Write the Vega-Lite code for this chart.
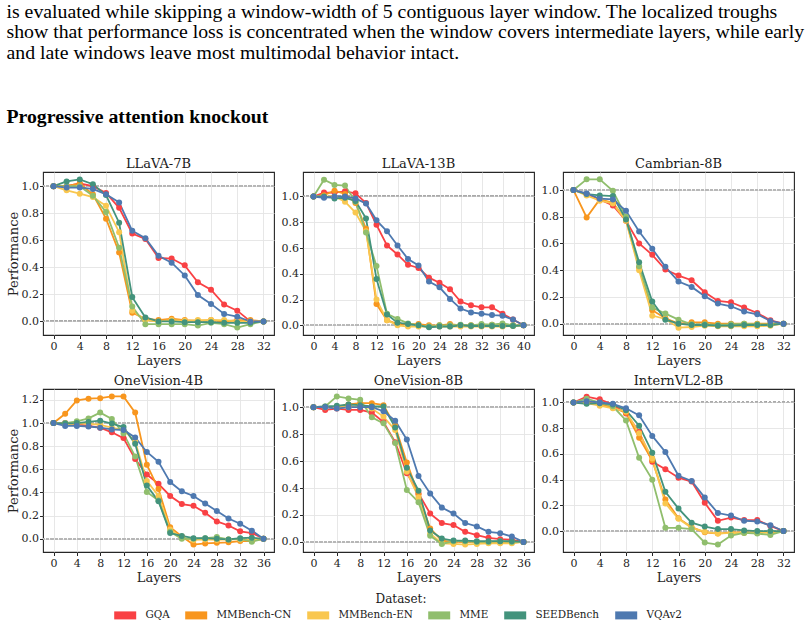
{
"$schema": "https://vega.github.io/schema/vega-lite/v6.json",
"padding": {"left": 6, "top": 1, "right": 5, "bottom": 2},
"background": "white",
"title": {"text": ["is evaluated while skipping a window-width of 5 contiguous layer window. The localized troughs", "show that performance loss is concentrated when the window covers intermediate layers, while early", "and late windows leave most multimodal behavior intact."], "subtitle": "Progressive attention knockout", "anchor": "start", "frame": "bounds", "font": "Liberation Serif", "fontSize": 19.8, "fontWeight": "normal", "lineHeight": 20.5, "color": "black", "subtitleFont": "Liberation Serif", "subtitleFontSize": 19.8, "subtitleFontWeight": "bold", "subtitleColor": "black", "subtitlePadding": 44, "offset": 31},
"datasets": {"d": [
{"m":"LLaVA-7B","l":0,"GQA":1,"MMBench-CN":1,"MMBench-EN":1,"MME":1,"SEEDBench":1,"VQAv2":1},
{"m":"LLaVA-7B","l":2,"GQA":1.0,"MMBench-CN":1.0,"MMBench-EN":0.97,"MME":1.0,"SEEDBench":1.035,"VQAv2":0.99},
{"m":"LLaVA-7B","l":4,"GQA":1.02,"MMBench-CN":1.02,"MMBench-EN":0.945,"MME":1.0,"SEEDBench":1.05,"VQAv2":0.99},
{"m":"LLaVA-7B","l":6,"GQA":1.0,"MMBench-CN":0.94,"MMBench-EN":0.92,"MME":0.93,"SEEDBench":1.015,"VQAv2":0.98},
{"m":"LLaVA-7B","l":8,"GQA":0.95,"MMBench-CN":0.76,"MMBench-EN":0.855,"MME":0.81,"SEEDBench":0.935,"VQAv2":0.94},
{"m":"LLaVA-7B","l":10,"GQA":0.84,"MMBench-CN":0.51,"MMBench-EN":0.66,"MME":0.545,"SEEDBench":0.73,"VQAv2":0.88},
{"m":"LLaVA-7B","l":12,"GQA":0.65,"MMBench-CN":0.065,"MMBench-EN":0.08,"MME":0.11,"SEEDBench":0.18,"VQAv2":0.67},
{"m":"LLaVA-7B","l":14,"GQA":0.61,"MMBench-CN":0.02,"MMBench-EN":0.01,"MME":-0.02,"SEEDBench":0.03,"VQAv2":0.615},
{"m":"LLaVA-7B","l":16,"GQA":0.47,"MMBench-CN":0.01,"MMBench-EN":0.0,"MME":-0.02,"SEEDBench":0.0,"VQAv2":0.485},
{"m":"LLaVA-7B","l":18,"GQA":0.465,"MMBench-CN":0.02,"MMBench-EN":0.01,"MME":-0.02,"SEEDBench":0.0,"VQAv2":0.435},
{"m":"LLaVA-7B","l":20,"GQA":0.415,"MMBench-CN":0.01,"MMBench-EN":0.005,"MME":-0.02,"SEEDBench":-0.005,"VQAv2":0.34},
{"m":"LLaVA-7B","l":22,"GQA":0.29,"MMBench-CN":0.005,"MMBench-EN":0.01,"MME":-0.03,"SEEDBench":-0.005,"VQAv2":0.195},
{"m":"LLaVA-7B","l":24,"GQA":0.235,"MMBench-CN":0.01,"MMBench-EN":0.01,"MME":-0.01,"SEEDBench":-0.005,"VQAv2":0.13},
{"m":"LLaVA-7B","l":26,"GQA":0.125,"MMBench-CN":0.0,"MMBench-EN":0.01,"MME":-0.02,"SEEDBench":-0.01,"VQAv2":0.055},
{"m":"LLaVA-7B","l":28,"GQA":0.08,"MMBench-CN":0.01,"MMBench-EN":0.0,"MME":-0.045,"SEEDBench":-0.01,"VQAv2":0.035},
{"m":"LLaVA-7B","l":30,"GQA":0.0,"MMBench-CN":0.01,"MMBench-EN":0.0,"MME":-0.02,"SEEDBench":-0.01,"VQAv2":0.0},
{"m":"LLaVA-7B","l":32,"GQA":0,"MMBench-CN":0,"MMBench-EN":0,"MME":0,"SEEDBench":0,"VQAv2":0},
{"m":"LLaVA-13B","l":0,"GQA":1,"MMBench-CN":1,"MMBench-EN":1,"MME":1,"SEEDBench":1,"VQAv2":1},
{"m":"LLaVA-13B","l":2,"GQA":1.03,"MMBench-CN":1.01,"MMBench-EN":1.0,"MME":1.13,"SEEDBench":1.0,"VQAv2":0.99},
{"m":"LLaVA-13B","l":4,"GQA":1.03,"MMBench-CN":1.045,"MMBench-EN":1.0,"MME":1.09,"SEEDBench":0.985,"VQAv2":1.0},
{"m":"LLaVA-13B","l":6,"GQA":1.04,"MMBench-CN":1.02,"MMBench-EN":0.96,"MME":1.085,"SEEDBench":0.99,"VQAv2":1.0},
{"m":"LLaVA-13B","l":8,"GQA":1.025,"MMBench-CN":0.95,"MMBench-EN":0.875,"MME":0.96,"SEEDBench":0.965,"VQAv2":0.985},
{"m":"LLaVA-13B","l":10,"GQA":0.95,"MMBench-CN":0.75,"MMBench-EN":0.73,"MME":0.72,"SEEDBench":0.83,"VQAv2":0.945},
{"m":"LLaVA-13B","l":12,"GQA":0.78,"MMBench-CN":0.165,"MMBench-EN":0.2,"MME":0.46,"SEEDBench":0.36,"VQAv2":0.815},
{"m":"LLaVA-13B","l":14,"GQA":0.62,"MMBench-CN":0.04,"MMBench-EN":0.04,"MME":0.09,"SEEDBench":0.085,"VQAv2":0.73},
{"m":"LLaVA-13B","l":16,"GQA":0.55,"MMBench-CN":0.01,"MMBench-EN":0.0,"MME":0.05,"SEEDBench":0.02,"VQAv2":0.62},
{"m":"LLaVA-13B","l":18,"GQA":0.47,"MMBench-CN":0.01,"MMBench-EN":-0.01,"MME":0.015,"SEEDBench":0.01,"VQAv2":0.515},
{"m":"LLaVA-13B","l":20,"GQA":0.445,"MMBench-CN":0.01,"MMBench-EN":-0.01,"MME":0.0,"SEEDBench":0.0,"VQAv2":0.465},
{"m":"LLaVA-13B","l":22,"GQA":0.37,"MMBench-CN":0.0,"MMBench-EN":-0.01,"MME":-0.01,"SEEDBench":-0.015,"VQAv2":0.34},
{"m":"LLaVA-13B","l":24,"GQA":0.33,"MMBench-CN":0.0,"MMBench-EN":-0.01,"MME":0.0,"SEEDBench":-0.01,"VQAv2":0.295},
{"m":"LLaVA-13B","l":26,"GQA":0.28,"MMBench-CN":0.01,"MMBench-EN":-0.01,"MME":0.0,"SEEDBench":-0.01,"VQAv2":0.205},
{"m":"LLaVA-13B","l":28,"GQA":0.185,"MMBench-CN":0.0,"MMBench-EN":-0.01,"MME":0.005,"SEEDBench":0.0,"VQAv2":0.13},
{"m":"LLaVA-13B","l":30,"GQA":0.155,"MMBench-CN":0.0,"MMBench-EN":-0.01,"MME":0.0,"SEEDBench":-0.005,"VQAv2":0.1},
{"m":"LLaVA-13B","l":32,"GQA":0.14,"MMBench-CN":0.0,"MMBench-EN":-0.01,"MME":0.01,"SEEDBench":-0.005,"VQAv2":0.09},
{"m":"LLaVA-13B","l":34,"GQA":0.14,"MMBench-CN":0.005,"MMBench-EN":-0.01,"MME":0.005,"SEEDBench":-0.005,"VQAv2":0.08},
{"m":"LLaVA-13B","l":36,"GQA":0.09,"MMBench-CN":0.0,"MMBench-EN":-0.01,"MME":0.015,"SEEDBench":-0.005,"VQAv2":0.075},
{"m":"LLaVA-13B","l":38,"GQA":0.045,"MMBench-CN":0.0,"MMBench-EN":-0.005,"MME":0.0,"SEEDBench":-0.005,"VQAv2":0.045},
{"m":"LLaVA-13B","l":40,"GQA":0,"MMBench-CN":0,"MMBench-EN":0,"MME":0,"SEEDBench":0,"VQAv2":0},
{"m":"Cambrian-8B","l":0,"GQA":1,"MMBench-CN":1,"MMBench-EN":1,"MME":1,"SEEDBench":1,"VQAv2":1},
{"m":"Cambrian-8B","l":2,"GQA":0.97,"MMBench-CN":0.795,"MMBench-EN":0.96,"MME":1.08,"SEEDBench":0.97,"VQAv2":0.975},
{"m":"Cambrian-8B","l":4,"GQA":0.93,"MMBench-CN":0.93,"MMBench-EN":0.92,"MME":1.08,"SEEDBench":0.96,"VQAv2":0.935},
{"m":"Cambrian-8B","l":6,"GQA":0.885,"MMBench-CN":0.905,"MMBench-EN":0.9,"MME":0.995,"SEEDBench":0.955,"VQAv2":0.93},
{"m":"Cambrian-8B","l":8,"GQA":0.77,"MMBench-CN":0.775,"MMBench-EN":0.77,"MME":0.8,"SEEDBench":0.78,"VQAv2":0.845},
{"m":"Cambrian-8B","l":10,"GQA":0.6,"MMBench-CN":0.42,"MMBench-EN":0.4,"MME":0.43,"SEEDBench":0.46,"VQAv2":0.69},
{"m":"Cambrian-8B","l":12,"GQA":0.515,"MMBench-CN":0.1,"MMBench-EN":0.06,"MME":0.12,"SEEDBench":0.165,"VQAv2":0.56},
{"m":"Cambrian-8B","l":14,"GQA":0.405,"MMBench-CN":0.04,"MMBench-EN":0.035,"MME":0.075,"SEEDBench":0.03,"VQAv2":0.425},
{"m":"Cambrian-8B","l":16,"GQA":0.36,"MMBench-CN":0.0,"MMBench-EN":-0.03,"MME":0.03,"SEEDBench":0.0,"VQAv2":0.315},
{"m":"Cambrian-8B","l":18,"GQA":0.325,"MMBench-CN":0.01,"MMBench-EN":-0.025,"MME":-0.005,"SEEDBench":-0.01,"VQAv2":0.275},
{"m":"Cambrian-8B","l":20,"GQA":0.235,"MMBench-CN":0.01,"MMBench-EN":-0.015,"MME":-0.005,"SEEDBench":-0.01,"VQAv2":0.205},
{"m":"Cambrian-8B","l":22,"GQA":0.17,"MMBench-CN":0.0,"MMBench-EN":-0.02,"MME":-0.01,"SEEDBench":-0.015,"VQAv2":0.15},
{"m":"Cambrian-8B","l":24,"GQA":0.16,"MMBench-CN":0.0,"MMBench-EN":-0.02,"MME":-0.005,"SEEDBench":-0.015,"VQAv2":0.13},
{"m":"Cambrian-8B","l":26,"GQA":0.12,"MMBench-CN":0.0,"MMBench-EN":-0.02,"MME":0.0,"SEEDBench":-0.01,"VQAv2":0.09},
{"m":"Cambrian-8B","l":28,"GQA":0.08,"MMBench-CN":0.0,"MMBench-EN":-0.02,"MME":-0.005,"SEEDBench":-0.01,"VQAv2":0.07},
{"m":"Cambrian-8B","l":30,"GQA":0.025,"MMBench-CN":0.0,"MMBench-EN":-0.015,"MME":-0.005,"SEEDBench":-0.01,"VQAv2":0.02},
{"m":"Cambrian-8B","l":32,"GQA":0,"MMBench-CN":0,"MMBench-EN":0,"MME":0,"SEEDBench":0,"VQAv2":0},
{"m":"OneVision-4B","l":0,"GQA":1,"MMBench-CN":1,"MMBench-EN":1,"MME":1,"SEEDBench":1,"VQAv2":1},
{"m":"OneVision-4B","l":2,"GQA":1.0,"MMBench-CN":1.08,"MMBench-EN":0.99,"MME":1.0,"SEEDBench":0.995,"VQAv2":0.975},
{"m":"OneVision-4B","l":4,"GQA":0.99,"MMBench-CN":1.195,"MMBench-EN":0.995,"MME":1.015,"SEEDBench":1.0,"VQAv2":0.975},
{"m":"OneVision-4B","l":6,"GQA":0.975,"MMBench-CN":1.21,"MMBench-EN":0.995,"MME":1.04,"SEEDBench":1.01,"VQAv2":0.97},
{"m":"OneVision-4B","l":8,"GQA":0.96,"MMBench-CN":1.215,"MMBench-EN":0.985,"MME":1.09,"SEEDBench":1.02,"VQAv2":0.96},
{"m":"OneVision-4B","l":10,"GQA":0.92,"MMBench-CN":1.23,"MMBench-EN":0.96,"MME":1.035,"SEEDBench":0.995,"VQAv2":0.945},
{"m":"OneVision-4B","l":12,"GQA":0.87,"MMBench-CN":1.23,"MMBench-EN":0.94,"MME":0.91,"SEEDBench":0.965,"VQAv2":0.94},
{"m":"OneVision-4B","l":14,"GQA":0.69,"MMBench-CN":1.09,"MMBench-EN":0.84,"MME":0.71,"SEEDBench":0.82,"VQAv2":0.875},
{"m":"OneVision-4B","l":16,"GQA":0.555,"MMBench-CN":0.64,"MMBench-EN":0.5,"MME":0.405,"SEEDBench":0.46,"VQAv2":0.75},
{"m":"OneVision-4B","l":18,"GQA":0.475,"MMBench-CN":0.43,"MMBench-EN":0.37,"MME":0.33,"SEEDBench":0.325,"VQAv2":0.665},
{"m":"OneVision-4B","l":20,"GQA":0.37,"MMBench-CN":0.1,"MMBench-EN":0.08,"MME":0.06,"SEEDBench":0.05,"VQAv2":0.49},
{"m":"OneVision-4B","l":22,"GQA":0.3,"MMBench-CN":0.02,"MMBench-EN":0.01,"MME":0.0,"SEEDBench":0.025,"VQAv2":0.41},
{"m":"OneVision-4B","l":24,"GQA":0.285,"MMBench-CN":-0.05,"MMBench-EN":-0.01,"MME":0.0,"SEEDBench":0.005,"VQAv2":0.37},
{"m":"OneVision-4B","l":26,"GQA":0.225,"MMBench-CN":-0.04,"MMBench-EN":-0.005,"MME":0.005,"SEEDBench":0.005,"VQAv2":0.305},
{"m":"OneVision-4B","l":28,"GQA":0.15,"MMBench-CN":-0.035,"MMBench-EN":-0.01,"MME":0.015,"SEEDBench":0.0,"VQAv2":0.24},
{"m":"OneVision-4B","l":30,"GQA":0.115,"MMBench-CN":-0.03,"MMBench-EN":-0.005,"MME":-0.005,"SEEDBench":-0.005,"VQAv2":0.175},
{"m":"OneVision-4B","l":32,"GQA":0.065,"MMBench-CN":-0.02,"MMBench-EN":-0.005,"MME":0.0,"SEEDBench":0.005,"VQAv2":0.13},
{"m":"OneVision-4B","l":34,"GQA":0.05,"MMBench-CN":-0.02,"MMBench-EN":-0.01,"MME":-0.025,"SEEDBench":0.01,"VQAv2":0.07},
{"m":"OneVision-4B","l":36,"GQA":0,"MMBench-CN":0,"MMBench-EN":0,"MME":0,"SEEDBench":0,"VQAv2":0},
{"m":"OneVision-8B","l":0,"GQA":1,"MMBench-CN":1,"MMBench-EN":1,"MME":1,"SEEDBench":1,"VQAv2":1},
{"m":"OneVision-8B","l":2,"GQA":0.98,"MMBench-CN":1.0,"MMBench-EN":1.0,"MME":1.005,"SEEDBench":1.005,"VQAv2":1.0},
{"m":"OneVision-8B","l":4,"GQA":0.99,"MMBench-CN":1.0,"MMBench-EN":1.0,"MME":1.08,"SEEDBench":1.01,"VQAv2":0.99},
{"m":"OneVision-8B","l":6,"GQA":0.98,"MMBench-CN":1.02,"MMBench-EN":1.0,"MME":1.065,"SEEDBench":1.02,"VQAv2":1.0},
{"m":"OneVision-8B","l":8,"GQA":0.98,"MMBench-CN":1.03,"MMBench-EN":1.01,"MME":1.055,"SEEDBench":1.015,"VQAv2":1.0},
{"m":"OneVision-8B","l":10,"GQA":0.96,"MMBench-CN":1.03,"MMBench-EN":0.99,"MME":0.925,"SEEDBench":1.005,"VQAv2":1.0},
{"m":"OneVision-8B","l":12,"GQA":0.89,"MMBench-CN":1.015,"MMBench-EN":0.93,"MME":0.88,"SEEDBench":1.005,"VQAv2":0.97},
{"m":"OneVision-8B","l":14,"GQA":0.74,"MMBench-CN":0.86,"MMBench-EN":0.83,"MME":0.735,"SEEDBench":0.85,"VQAv2":0.9},
{"m":"OneVision-8B","l":16,"GQA":0.51,"MMBench-CN":0.59,"MMBench-EN":0.52,"MME":0.385,"SEEDBench":0.55,"VQAv2":0.76},
{"m":"OneVision-8B","l":18,"GQA":0.36,"MMBench-CN":0.35,"MMBench-EN":0.33,"MME":0.295,"SEEDBench":0.38,"VQAv2":0.49},
{"m":"OneVision-8B","l":20,"GQA":0.21,"MMBench-CN":0.1,"MMBench-EN":0.06,"MME":0.045,"SEEDBench":0.085,"VQAv2":0.36},
{"m":"OneVision-8B","l":22,"GQA":0.14,"MMBench-CN":0.01,"MMBench-EN":-0.01,"MME":-0.015,"SEEDBench":0.025,"VQAv2":0.255},
{"m":"OneVision-8B","l":24,"GQA":0.125,"MMBench-CN":0.0,"MMBench-EN":-0.015,"MME":0.005,"SEEDBench":0.01,"VQAv2":0.21},
{"m":"OneVision-8B","l":26,"GQA":0.075,"MMBench-CN":0.0,"MMBench-EN":-0.02,"MME":0.005,"SEEDBench":0.01,"VQAv2":0.14},
{"m":"OneVision-8B","l":28,"GQA":0.05,"MMBench-CN":0.0,"MMBench-EN":-0.015,"MME":0.0,"SEEDBench":0.005,"VQAv2":0.115},
{"m":"OneVision-8B","l":30,"GQA":0.03,"MMBench-CN":-0.005,"MMBench-EN":-0.01,"MME":0.0,"SEEDBench":0.005,"VQAv2":0.075},
{"m":"OneVision-8B","l":32,"GQA":0.02,"MMBench-CN":-0.005,"MMBench-EN":-0.01,"MME":0.005,"SEEDBench":0.005,"VQAv2":0.065},
{"m":"OneVision-8B","l":34,"GQA":0.015,"MMBench-CN":-0.005,"MMBench-EN":-0.01,"MME":0.0,"SEEDBench":0.005,"VQAv2":0.04},
{"m":"OneVision-8B","l":36,"GQA":0,"MMBench-CN":0,"MMBench-EN":0,"MME":0,"SEEDBench":0,"VQAv2":0},
{"m":"InternVL2-8B","l":0,"GQA":1,"MMBench-CN":1,"MMBench-EN":1,"MME":1,"SEEDBench":1,"VQAv2":1},
{"m":"InternVL2-8B","l":2,"GQA":1.045,"MMBench-CN":1.0,"MMBench-EN":0.995,"MME":1.03,"SEEDBench":0.99,"VQAv2":1.01},
{"m":"InternVL2-8B","l":4,"GQA":1.025,"MMBench-CN":0.99,"MMBench-EN":0.975,"MME":1.0,"SEEDBench":0.995,"VQAv2":1.0},
{"m":"InternVL2-8B","l":6,"GQA":0.985,"MMBench-CN":0.96,"MMBench-EN":0.955,"MME":0.97,"SEEDBench":0.985,"VQAv2":0.99},
{"m":"InternVL2-8B","l":8,"GQA":0.915,"MMBench-CN":0.92,"MMBench-EN":0.93,"MME":0.86,"SEEDBench":0.94,"VQAv2":0.955},
{"m":"InternVL2-8B","l":10,"GQA":0.77,"MMBench-CN":0.725,"MMBench-EN":0.76,"MME":0.57,"SEEDBench":0.82,"VQAv2":0.9},
{"m":"InternVL2-8B","l":12,"GQA":0.54,"MMBench-CN":0.55,"MMBench-EN":0.565,"MME":0.4,"SEEDBench":0.61,"VQAv2":0.74},
{"m":"InternVL2-8B","l":14,"GQA":0.48,"MMBench-CN":0.245,"MMBench-EN":0.215,"MME":0.025,"SEEDBench":0.305,"VQAv2":0.615},
{"m":"InternVL2-8B","l":16,"GQA":0.415,"MMBench-CN":0.1,"MMBench-EN":0.095,"MME":0.025,"SEEDBench":0.175,"VQAv2":0.43},
{"m":"InternVL2-8B","l":18,"GQA":0.385,"MMBench-CN":0.03,"MMBench-EN":0.025,"MME":0.015,"SEEDBench":0.065,"VQAv2":0.39},
{"m":"InternVL2-8B","l":20,"GQA":0.22,"MMBench-CN":-0.01,"MMBench-EN":-0.005,"MME":-0.09,"SEEDBench":0.035,"VQAv2":0.26},
{"m":"InternVL2-8B","l":22,"GQA":0.08,"MMBench-CN":-0.02,"MMBench-EN":-0.02,"MME":-0.105,"SEEDBench":0.015,"VQAv2":0.14},
{"m":"InternVL2-8B","l":24,"GQA":0.105,"MMBench-CN":-0.01,"MMBench-EN":-0.015,"MME":-0.035,"SEEDBench":0.015,"VQAv2":0.12},
{"m":"InternVL2-8B","l":26,"GQA":0.085,"MMBench-CN":-0.01,"MMBench-EN":-0.015,"MME":-0.015,"SEEDBench":0.005,"VQAv2":0.08},
{"m":"InternVL2-8B","l":28,"GQA":0.085,"MMBench-CN":-0.01,"MMBench-EN":-0.015,"MME":-0.02,"SEEDBench":0.0,"VQAv2":0.075},
{"m":"InternVL2-8B","l":30,"GQA":0.04,"MMBench-CN":-0.01,"MMBench-EN":-0.01,"MME":-0.03,"SEEDBench":0.0,"VQAv2":0.045},
{"m":"InternVL2-8B","l":32,"GQA":0,"MMBench-CN":0,"MMBench-EN":0,"MME":0,"SEEDBench":0,"VQAv2":0}
]},
"columns": 3,
"spacing": {"row": 54, "column": 29},
"bounds": "flush",
"resolve": {"scale": {"x": "independent", "y": "independent", "color": "shared"}},
"concat": [
{"title": "LLaVA-7B", "width": 231, "height": 163, "layer": [
 {"data": {"name": "d"}, "transform": [{"filter": "datum.m === 'LLaVA-7B'"}, {"fold": ["GQA", "MMBench-CN", "MMBench-EN", "MME", "SEEDBench", "VQAv2"], "as": ["Dataset", "v"]}],
  "encoding": {
   "x": {"field": "l", "type": "quantitative", "scale": {"domain": [-1.6, 33.6], "nice": false, "zero": false}, "axis": {"values": [0, 4, 8, 12, 16, 20, 24, 28, 32], "format": "d", "title": "Layers"}},
   "y": {"field": "v", "type": "quantitative", "scale": {"domain": [-0.1, 1.105], "nice": false, "zero": false}, "axis": {"values": [0, 0.2, 0.4, 0.6, 0.8, 1.0], "format": ".1f", "title": "Performance"}},
   "color": {"field": "Dataset", "type": "nominal", "scale": {"domain": ["GQA", "MMBench-CN", "MMBench-EN", "MME", "SEEDBench", "VQAv2"], "range": ["#f94144", "#f8961e", "#f9c74f", "#90be6d", "#43937c", "#4e79b0"]}, "legend": {"title": "Dataset:"}}},
  "layer": [
   {"mark": {"type": "rule", "strokeDash": [3, 1.5], "color": "#b8b8b8", "strokeWidth": 0.8}, "encoding": {"y": {"datum": 0}, "x": null, "color": null}},
   {"mark": {"type": "rule", "strokeDash": [3, 1.5], "color": "#b8b8b8", "strokeWidth": 0.8}, "encoding": {"y": {"datum": 1}, "x": null, "color": null}},
   {"mark": {"type": "line", "strokeWidth": 1.8}}, {"mark": {"type": "circle", "size": 36, "opacity": 1}}]}
]},
{"title": "LLaVA-13B", "width": 231, "height": 163, "layer": [
 {"data": {"name": "d"}, "transform": [{"filter": "datum.m === 'LLaVA-13B'"}, {"fold": ["GQA", "MMBench-CN", "MMBench-EN", "MME", "SEEDBench", "VQAv2"], "as": ["Dataset", "v"]}],
  "encoding": {
   "x": {"field": "l", "type": "quantitative", "scale": {"domain": [-2, 42], "nice": false, "zero": false}, "axis": {"values": [0, 4, 8, 12, 16, 20, 24, 28, 32, 36, 40], "format": "d", "title": "Layers"}},
   "y": {"field": "v", "type": "quantitative", "scale": {"domain": [-0.075, 1.19], "nice": false, "zero": false}, "axis": {"values": [0, 0.2, 0.4, 0.6, 0.8, 1.0], "format": ".1f", "title": null}},
   "color": {"field": "Dataset", "type": "nominal"}},
  "layer": [
   {"mark": {"type": "rule", "strokeDash": [3, 1.5], "color": "#b8b8b8", "strokeWidth": 0.8}, "encoding": {"y": {"datum": 0}, "x": null, "color": null}},
   {"mark": {"type": "rule", "strokeDash": [3, 1.5], "color": "#b8b8b8", "strokeWidth": 0.8}, "encoding": {"y": {"datum": 1}, "x": null, "color": null}},
   {"mark": {"type": "line", "strokeWidth": 1.8}}, {"mark": {"type": "circle", "size": 36, "opacity": 1}}]}
]},
{"title": "Cambrian-8B", "width": 231, "height": 163, "layer": [
 {"data": {"name": "d"}, "transform": [{"filter": "datum.m === 'Cambrian-8B'"}, {"fold": ["GQA", "MMBench-CN", "MMBench-EN", "MME", "SEEDBench", "VQAv2"], "as": ["Dataset", "v"]}],
  "encoding": {
   "x": {"field": "l", "type": "quantitative", "scale": {"domain": [-1.6, 33.6], "nice": false, "zero": false}, "axis": {"values": [0, 4, 8, 12, 16, 20, 24, 28, 32], "format": "d", "title": "Layers"}},
   "y": {"field": "v", "type": "quantitative", "scale": {"domain": [-0.085, 1.135], "nice": false, "zero": false}, "axis": {"values": [0, 0.2, 0.4, 0.6, 0.8, 1.0], "format": ".1f", "title": null}},
   "color": {"field": "Dataset", "type": "nominal"}},
  "layer": [
   {"mark": {"type": "rule", "strokeDash": [3, 1.5], "color": "#b8b8b8", "strokeWidth": 0.8}, "encoding": {"y": {"datum": 0}, "x": null, "color": null}},
   {"mark": {"type": "rule", "strokeDash": [3, 1.5], "color": "#b8b8b8", "strokeWidth": 0.8}, "encoding": {"y": {"datum": 1}, "x": null, "color": null}},
   {"mark": {"type": "line", "strokeWidth": 1.8}}, {"mark": {"type": "circle", "size": 36, "opacity": 1}}]}
]},
{"title": "OneVision-4B", "width": 231, "height": 163, "layer": [
 {"data": {"name": "d"}, "transform": [{"filter": "datum.m === 'OneVision-4B'"}, {"fold": ["GQA", "MMBench-CN", "MMBench-EN", "MME", "SEEDBench", "VQAv2"], "as": ["Dataset", "v"]}],
  "encoding": {
   "x": {"field": "l", "type": "quantitative", "scale": {"domain": [-1.8, 37.8], "nice": false, "zero": false}, "axis": {"values": [0, 4, 8, 12, 16, 20, 24, 28, 32, 36], "format": "d", "title": "Layers"}},
   "y": {"field": "v", "type": "quantitative", "scale": {"domain": [-0.114, 1.294], "nice": false, "zero": false}, "axis": {"values": [0, 0.2, 0.4, 0.6, 0.8, 1.0, 1.2], "format": ".1f", "title": "Performance"}},
   "color": {"field": "Dataset", "type": "nominal"}},
  "layer": [
   {"mark": {"type": "rule", "strokeDash": [3, 1.5], "color": "#b8b8b8", "strokeWidth": 0.8}, "encoding": {"y": {"datum": 0}, "x": null, "color": null}},
   {"mark": {"type": "rule", "strokeDash": [3, 1.5], "color": "#b8b8b8", "strokeWidth": 0.8}, "encoding": {"y": {"datum": 1}, "x": null, "color": null}},
   {"mark": {"type": "line", "strokeWidth": 1.8}}, {"mark": {"type": "circle", "size": 36, "opacity": 1}}]}
]},
{"title": "OneVision-8B", "width": 231, "height": 163, "layer": [
 {"data": {"name": "d"}, "transform": [{"filter": "datum.m === 'OneVision-8B'"}, {"fold": ["GQA", "MMBench-CN", "MMBench-EN", "MME", "SEEDBench", "VQAv2"], "as": ["Dataset", "v"]}],
  "encoding": {
   "x": {"field": "l", "type": "quantitative", "scale": {"domain": [-1.8, 37.8], "nice": false, "zero": false}, "axis": {"values": [0, 4, 8, 12, 16, 20, 24, 28, 32, 36], "format": "d", "title": "Layers"}},
   "y": {"field": "v", "type": "quantitative", "scale": {"domain": [-0.075, 1.135], "nice": false, "zero": false}, "axis": {"values": [0, 0.2, 0.4, 0.6, 0.8, 1.0], "format": ".1f", "title": null}},
   "color": {"field": "Dataset", "type": "nominal"}},
  "layer": [
   {"mark": {"type": "rule", "strokeDash": [3, 1.5], "color": "#b8b8b8", "strokeWidth": 0.8}, "encoding": {"y": {"datum": 0}, "x": null, "color": null}},
   {"mark": {"type": "rule", "strokeDash": [3, 1.5], "color": "#b8b8b8", "strokeWidth": 0.8}, "encoding": {"y": {"datum": 1}, "x": null, "color": null}},
   {"mark": {"type": "line", "strokeWidth": 1.8}}, {"mark": {"type": "circle", "size": 36, "opacity": 1}}]}
]},
{"title": "InternVL2-8B", "width": 231, "height": 163, "layer": [
 {"data": {"name": "d"}, "transform": [{"filter": "datum.m === 'InternVL2-8B'"}, {"fold": ["GQA", "MMBench-CN", "MMBench-EN", "MME", "SEEDBench", "VQAv2"], "as": ["Dataset", "v"]}],
  "encoding": {
   "x": {"field": "l", "type": "quantitative", "scale": {"domain": [-1.6, 33.6], "nice": false, "zero": false}, "axis": {"values": [0, 4, 8, 12, 16, 20, 24, 28, 32], "format": "d", "title": "Layers"}},
   "y": {"field": "v", "type": "quantitative", "scale": {"domain": [-0.163, 1.105], "nice": false, "zero": false}, "axis": {"values": [0, 0.2, 0.4, 0.6, 0.8, 1.0], "format": ".1f", "title": null}},
   "color": {"field": "Dataset", "type": "nominal"}},
  "layer": [
   {"mark": {"type": "rule", "strokeDash": [3, 1.5], "color": "#b8b8b8", "strokeWidth": 0.8}, "encoding": {"y": {"datum": 0}, "x": null, "color": null}},
   {"mark": {"type": "rule", "strokeDash": [3, 1.5], "color": "#b8b8b8", "strokeWidth": 0.8}, "encoding": {"y": {"datum": 1}, "x": null, "color": null}},
   {"mark": {"type": "line", "strokeWidth": 1.8}}, {"mark": {"type": "circle", "size": 36, "opacity": 1}}]}
]}
],
"config": {
 "font": "DejaVu Serif",
 "view": {"stroke": "#262626", "strokeWidth": 1.1},
 "axis": {"labelFont": "DejaVu Serif", "labelFontSize": 11, "labelColor": "#262626", "titleFont": "DejaVu Serif", "titleFontSize": 13, "titleFontWeight": "normal", "titleColor": "#262626", "tickColor": "#262626", "tickSize": 3.5, "domain": false, "gridColor": "#e4e4e4", "gridWidth": 0.9, "labelPadding": 2, "titlePadding": 3},
 "axisY": {"labelPadding": 1, "titlePadding": 1},
 "title": {"font": "DejaVu Serif", "fontSize": 13, "fontWeight": "normal", "color": "#1a1a1a", "offset": 1},
 "legend": {"orient": "bottom", "direction": "horizontal", "titleOrient": "top", "titleAnchor": "middle", "titlePadding": 4, "titleFont": "DejaVu Serif", "titleFontSize": 12, "titleFontWeight": "normal", "titleColor": "#1a1a1a", "labelFont": "DejaVu Serif", "labelFontSize": 10.4, "labelColor": "#1a1a1a", "symbolType": "M-2.75,-1H2.75V1H-2.75Z", "symbolSize": 64, "symbolStrokeWidth": 0, "columnPadding": 15, "labelOffset": 15, "offset": 8, "layout": {"bottom": {"anchor": "middle"}}}
}
}
